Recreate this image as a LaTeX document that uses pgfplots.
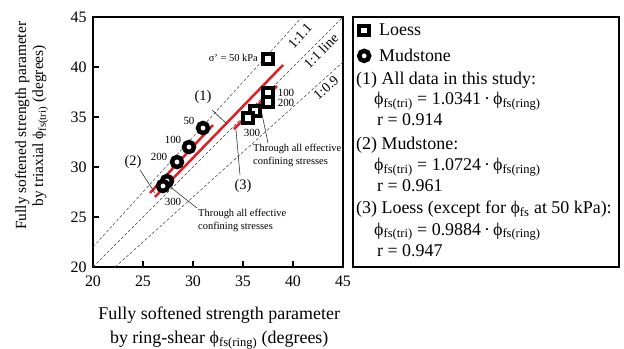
\documentclass[border=0pt]{standalone}
\usepackage{fontspec}
\setmainfont{Liberation Serif}
\usepackage{pgfplots}
\pgfplotsset{compat=1.18}
\definecolor{fitred}{RGB}{225,30,35}
\newcommand{\ph}{ϕ}
\newcommand{\fsb}[1]{\ph\textsubscript{#1}}
\begin{document}
\begin{tikzpicture}
\useasboundingbox (-93bp,-82bp) rectangle (531bp,267bp);
\begin{axis}[
  scale only axis, width=250bp, height=250bp,
  xmin=20, xmax=45, ymin=20, ymax=45,
  xtick={20,25,30,35,40,45}, ytick={20,25,30,35,40,45},
  tick align=inside, xtick pos=left, ytick pos=left,
  major tick length=6bp,
  tick style={black, line width=1.2bp},
  axis line style={black, line width=1.5bp},
  ticklabel style={font=\fontsize{16}{18}\selectfont},
  xticklabel style={yshift=-5bp},
  yticklabel style={xshift=-3bp},
  /pgf/number format/assume math mode=true,
  xlabel={Fully softened strength parameter\\by ring-shear \fsb{fs(ring)} (degrees)},
  ylabel={Fully softened strength parameter\\by triaxial \fsb{fs(tri)} (degrees)},
  xlabel style={font=\fontsize{18}{24}\selectfont, align=center, at={(axis description cs:0.505,-0.244)}, anchor=center},
  ylabel style={font=\fontsize{15.5}{17}\selectfont, align=center, at={(axis description cs:-0.245,0.565)}, anchor=center},
  legend style={at={(axis description cs:1.052,0.99)}, anchor=north west, draw=none, fill=none,
    font=\fontsize{18}{21}\selectfont, row sep=8bp, legend cell align=left,
    /tikz/every odd column/.append style={column sep=8bp}},
]
% reference lines
\addplot[forget plot, densely dashed, line width=0.5bp, black!75] coordinates {(20,22) (40.909,45)};
\addplot[forget plot, densely dashed, line width=0.5bp, black!75] coordinates {(20,20) (45,45)};
\addplot[forget plot, densely dashed, line width=0.5bp, black!75] coordinates {(22.222,20) (45,40.5)};
% regression lines
\addplot[forget plot, fitred, line width=2.5bp] coordinates {(26.2,27.0) (39.0,40.2)};
\addplot[forget plot, fitred, line width=2.5bp] coordinates {(25.7,27.4) (32.0,34.2)};
\addplot[forget plot, fitred, line width=2.5bp] coordinates {(34.1,33.8) (38.4,38.1)};
% leaders
\addplot[forget plot, black!80, line width=0.6bp] coordinates {(31.9,35.7) (33.3,34.4)};
\addplot[forget plot, black!80, line width=0.6bp] coordinates {(24.7,29.7) (26.2,27.4)};
\addplot[forget plot, black!80, line width=0.6bp] coordinates {(34.7,29.2) (34.3,33.7)};
\addplot[forget plot, black!80, line width=0.6bp] coordinates {(37.5,32.4) (36.9,35.3)};
\addplot[forget plot, black!80, line width=0.6bp] coordinates {(30.4,25.9) (27.6,28.1)};
% data
\addplot[only marks, mark=square*, mark size=4.7bp, line width=4bp, mark options={fill=white, draw=black, miter limit=2}]
  coordinates {(37.5,40.8) (37.5,37.4) (37.5,36.5) (36.2,35.6) (35.5,34.9)};
\addlegendentry{Loess}
\addplot[only marks, mark=*, mark size=5bp, line width=4.5bp, mark options={fill=white, draw=black}]
  coordinates {(31.0,33.9) (29.6,32.0) (28.4,30.5) (27.4,28.6) (27.0,28.1)};
\addlegendentry{Mudstone}
% annotations
\node[rotate=47.7, font=\fontsize{14}{16}\selectfont, inner sep=0pt] at (axis cs:40.7,43.1) {1:1.1};
\node[rotate=45, font=\fontsize{14}{16}\selectfont, inner sep=0pt] at (axis cs:42.8,41.6) {1:1 line};
\node[rotate=41.8, font=\fontsize{14}{16}\selectfont, inner sep=0pt] at (axis cs:43.3,37.9) {1:0.9};
\node[anchor=east, font=\fontsize{10.5}{12}\selectfont, inner sep=0pt] at (axis cs:36.5,40.9) {σ' = 50 kPa};
\node[font=\fontsize{11}{12}\selectfont, inner sep=0pt] at (axis cs:39.3,37.4) {100};
\node[font=\fontsize{11}{12}\selectfont, inner sep=0pt] at (axis cs:39.3,36.4) {200};
\node[font=\fontsize{11}{12}\selectfont, inner sep=0pt] at (axis cs:35.9,33.4) {300};
\node[font=\fontsize{11}{12}\selectfont, inner sep=0pt] at (axis cs:29.6,34.6) {50};
\node[font=\fontsize{11}{12}\selectfont, inner sep=0pt] at (axis cs:28.0,32.7) {100};
\node[font=\fontsize{11}{12}\selectfont, inner sep=0pt] at (axis cs:26.6,31.0) {200};
\node[font=\fontsize{11}{12}\selectfont, inner sep=0pt] at (axis cs:28.0,26.5) {300};
\node[font=\fontsize{14.5}{16}\selectfont, inner sep=0pt] at (axis cs:31.0,37.0) {(1)};
\node[font=\fontsize{14.5}{16}\selectfont, inner sep=0pt] at (axis cs:24.0,30.5) {(2)};
\node[font=\fontsize{14.5}{16}\selectfont, inner sep=0pt] at (axis cs:35.0,28.1) {(3)};
\node[anchor=north west, align=left, font=\fontsize{10.5}{12.5}\selectfont, inner sep=0pt] at (axis cs:36.0,32.3) {Through all effective\\confining stresses};
\node[anchor=north west, align=left, font=\fontsize{10.5}{12.5}\selectfont, inner sep=0pt] at (axis cs:30.5,25.8) {Through all effective\\confining stresses};
\end{axis}
\draw[line width=1.2bp] (260bp,0bp) rectangle (526bp,250bp);
\begin{scope}[every node/.style={anchor=base west, inner sep=0pt, font=\fontsize{18}{21}\selectfont}]
\node at (263bp,182bp) {(1) All data in this study:};
\node at (281bp,162bp) {\fsb{fs(tri)} = 1.0341\,·\,\fsb{fs(ring)}};
\node at (284bp,141bp) {r = 0.914};
\node at (263bp,117bp) {(2) Mudstone:};
\node at (281bp,96bp) {\fsb{fs(tri)} = 1.0724\,·\,\fsb{fs(ring)}};
\node at (284bp,75bp) {r = 0.961};
\node at (263bp,53bp) {(3) Loess (except for \fsb{fs} at 50 kPa):};
\node at (281bp,32bp) {\fsb{fs(tri)} = 0.9884\,·\,\fsb{fs(ring)}};
\node at (284bp,11bp) {r = 0.947};
\end{scope}
\end{tikzpicture}
\end{document}
